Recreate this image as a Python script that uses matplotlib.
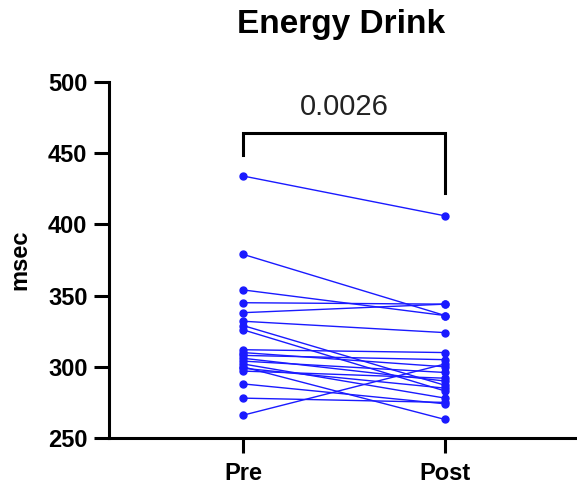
import matplotlib
matplotlib.use("Agg")
import matplotlib.pyplot as plt

plt.rcParams['font.family'] = ['Liberation Sans', 'DejaVu Sans']

groups = ["Pre", "Post"]
pre = [434, 379, 354, 345, 338, 332, 329, 326, 312, 310, 308, 306, 304, 302, 300, 299, 297, 288, 278, 266]
post = [406, 336, 336, 344, 344, 324, 287, 283, 310, 300, 305, 290, 296, 278, 263, 285, 292, 274, 275, 302]
title = "Energy Drink"
ylabel = "msec"
p_text = "0.0026"
yticks = [250, 300, 350, 400, 450, 500]

W, H = 577, 486
fig = plt.figure(figsize=(W / 100, H / 100), dpi=100)
ax = fig.add_axes([109 / W, 1 - 438 / H, (W - 109) / W, (438 - 82) / H])

xs = [0, 1]
for a, b in zip(pre, post):
    ax.plot(xs, [a, b], color='#1a1aff', lw=1.0, marker='o', ms=5.0,
            mec='#1a1aff', mfc='#1a1aff', zorder=3, clip_on=False)

ax.set_xlim(-0.663, 1.653)
ax.set_ylim(250, 500)
ax.set_yticks(yticks)
ax.set_xticks(xs)
ax.set_xticklabels(groups)
for s in ['top', 'right']:
    ax.spines[s].set_visible(False)
for s in ['left', 'bottom']:
    ax.spines[s].set_linewidth(2.2)
ax.tick_params(axis='both', width=2.2, length=10.5, labelsize=17)
ax.tick_params(axis='y', pad=5)
ax.tick_params(axis='x', pad=7)
for lab in ax.get_xticklabels() + ax.get_yticklabels():
    lab.set_fontweight('bold')

ax.set_ylabel(ylabel, fontsize=17, fontweight='bold', labelpad=12)
fig.text(341 / W, 1 - 25 / H, title, fontsize=24, fontweight='bold',
         ha='center', va='center')

# significance bracket
top_y = 464.2
ax.plot([0, 0, 1, 1], [448.7, top_y, top_y, 422.0], color='black', lw=2.2,
        clip_on=False, solid_joinstyle='miter')
ax.text(0.5, top_y + 8.5, p_text, fontsize=21, ha='center', va='bottom',
        color='#222222')

fig.savefig("out.png", dpi=100)
